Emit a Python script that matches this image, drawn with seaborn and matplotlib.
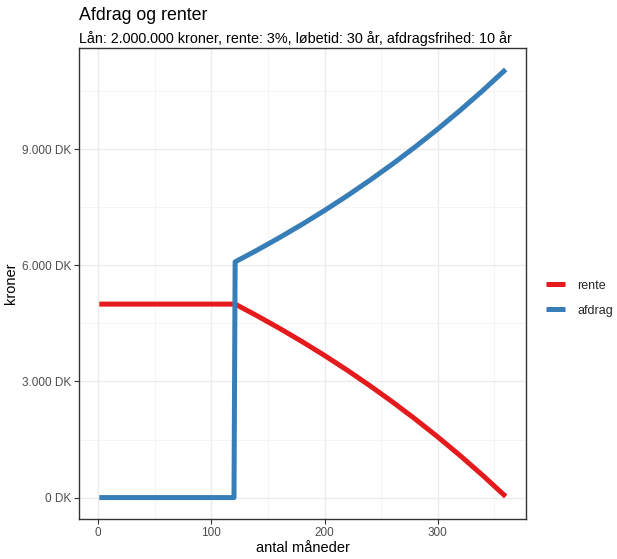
import seaborn as sns
import matplotlib.pyplot as plt
import pandas as pd

# months and values (interest-only first 120 months)
maaned = [1, 120, 121, 140, 160, 180, 200, 220, 240, 260, 280, 300, 320, 340, 360]
rente = [5000, 5000, 5000, 4704, 4377, 4033, 3672, 3292, 2892, 2472, 2031, 1567, 1079, 566, 28]
afdrag = [0, 0, 6092, 6388, 6715, 7059, 7420, 7800, 8200, 8620, 9061, 9525, 10013, 10526, 11064]

yticks = [0, 3000, 6000, 9000]
ytick_labels = ['0 DK', '3.000 DK', '6.000 DK', '9.000 DK']

df = pd.concat([
    pd.DataFrame({'maaned': maaned, 'kroner': rente, 'type': 'rente'}),
    pd.DataFrame({'maaned': maaned, 'kroner': afdrag, 'type': 'afdrag'}),
])

sns.set_theme(style='whitegrid')
plt.rcParams['font.family'] = ['Liberation Sans', 'DejaVu Sans']

fig = plt.figure(figsize=(6.17, 5.59), dpi=100)
ax = fig.add_axes([0.128, 0.0716, 0.7245, 0.8424])
sns.lineplot(data=df, x='maaned', y='kroner', hue='type',
             hue_order=['rente', 'afdrag'],
             palette={'rente': '#E41A1C', 'afdrag': '#377EB8'},
             linewidth=3.6, ax=ax, solid_capstyle='butt')

xmin, xmax = min(maaned), max(maaned)
xr = xmax - xmin
ax.set_xlim(xmin - 0.05 * xr, xmax + 0.05 * xr)
ymax = max(afdrag)
ax.set_ylim(-0.05 * ymax, ymax * 1.05)

ax.set_xticks([0, 100, 200, 300])
ax.set_xticks([50, 150, 250, 350], minor=True)
ax.set_yticks(yticks)
ax.set_yticklabels(ytick_labels)
ax.set_yticks([1500, 4500, 7500, 10500], minor=True)
ax.grid(which='major', color='#EBEBEB', linewidth=1.0)
ax.grid(which='minor', color='#F2F2F2', linewidth=0.6)
ax.set_axisbelow(True)

for s in ax.spines.values():
    s.set_color('#333333')
    s.set_linewidth(1.0)
    s.set_visible(True)
ax.tick_params(axis='both', which='major', length=3.5, width=0.8, color='#333333',
               labelsize=8.5, labelcolor='#4D4D4D', pad=2, bottom=True, left=True)
ax.tick_params(which='minor', length=0)

ax.set_xlabel('antal måneder', fontsize=10.5, color='black', labelpad=2)
ax.set_ylabel('kroner', fontsize=10.5, color='black', labelpad=3)

fig.text(0.128, 0.964, 'Afdrag og renter', fontsize=12.8, color='black', ha='left', va='baseline')
fig.text(0.128, 0.923, 'Lån: 2.000.000 kroner, rente: 3%, løbetid: 30 år, afdragsfrihed: 10 år',
         fontsize=10.4, color='black', ha='left', va='baseline')

leg = ax.legend(loc='center left', bbox_to_anchor=(1.02, 0.469), frameon=False,
                fontsize=9, handlelength=1.5, handletextpad=1.0, labelspacing=1.05, title=None)
for line in leg.get_lines():
    line.set_linewidth(3.6)

plt.savefig('out.png', dpi=100)
